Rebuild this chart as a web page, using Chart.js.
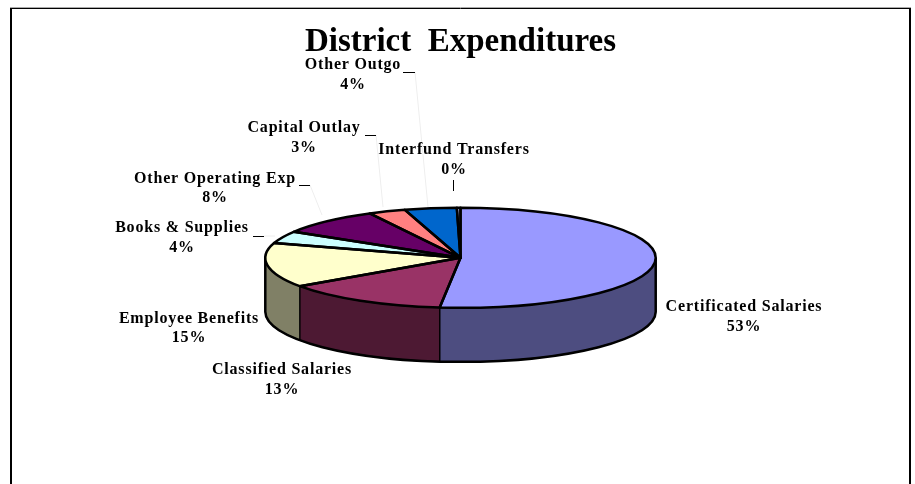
<!DOCTYPE html>
<html>
<head>
<meta charset="utf-8">
<title>District Expenditures</title>
<script src="https://cdn.jsdelivr.net/npm/chart.js@4"></script>
<style>
  html, body { margin: 0; padding: 0; background: #fff; overflow: hidden; }
  canvas { display: block; }
</style>
</head>
<body>
<canvas id="myChart" width="915" height="484"></canvas>
<script>
// Values (slice sizes as drawn, then the printed percentages)
const categories = ["Certificated Salaries", "Classified Salaries", "Employee Benefits", "Books & Supplies",
  "Other Operating Exp", "Capital Outlay", "Other Outgo", "Interfund Transfers"];
const sliceValues = [51.7, 13.7, 14.4, 3.9, 8.6, 3.1, 4.3, 0.3];
const printedPercents = ["53%", "13%", "15%", "4%", "8%", "3%", "4%", "0%"];

const topColors = ["#9999FF", "#993366", "#FFFFCC", "#CCFFFF", "#660066", "#FF8080", "#0066CC", "#CCCCFF"];
const sideColors = ["#4D4D80", "#4D1933", "#808066", "#668080", "#330033", "#804040", "#003366", "#666680"];

// label centre x, baseline of name, baseline of percent
const labelSpots = [[744, 311, 331], [282, 374, 394], [189, 323, 342], [182, 232, 252],
  [215, 183, 202], [304, 132, 152], [353, 69, 89], [454, 154, 174]];
// faint leaders from the labels down to the pie
const leaders = [[253, 236, 264, 236, 275, 236], [299, 185, 310, 185, 322, 215],
  [365, 135, 376, 135, 383, 207], [403, 72, 415, 72, 428, 207]];

const squash = 50 / 195;  // ellipse height / width
const depth = 54;

const pie3d = {
  id: "pie3d",
  beforeDatasetsDraw(chart) {
    const ctx = chart.ctx;
    const arcs = chart.getDatasetMeta(0).data;
    const { x, y, outerRadius: r } = arcs[0];
    const ry = r * squash;

    // outer walls, only the part of each slice facing the viewer
    ctx.save();
    ctx.lineJoin = "round";
    arcs.forEach((arc, i) => {
      const a0 = Math.max(arc.startAngle, 0);
      const a1 = Math.min(arc.endAngle, Math.PI);
      if (a1 <= a0) return;
      ctx.beginPath();
      ctx.ellipse(x, y, r, ry, 0, a0, a1);
      ctx.ellipse(x, y + depth, r, ry, 0, a1, a0, true);
      ctx.closePath();
      ctx.fillStyle = sideColors[i];
      ctx.fill();
      ctx.lineWidth = 1.2;
      ctx.strokeStyle = "#000";
      ctx.stroke();
    });
    // heavier outside edge
    ctx.beginPath();
    ctx.moveTo(x + r, y);
    ctx.ellipse(x, y + depth, r, ry, 0, 0, Math.PI);
    ctx.lineTo(x - r, y);
    ctx.lineWidth = 2.5;
    ctx.stroke();
    ctx.restore();

    // flatten the library's own pie for the top face
    ctx.save();
    ctx.translate(x, y);
    ctx.scale(1, squash);
    ctx.translate(-x, -y);
  },
  afterDatasetsDraw(chart) {
    const ctx = chart.ctx;
    ctx.restore();

    const arcs = chart.getDatasetMeta(0).data;
    const { x, y, outerRadius: r } = arcs[0];
    const ry = r * squash;

    ctx.save();
    ctx.lineJoin = "round";
    ctx.strokeStyle = "#000";
    ctx.lineWidth = 2.5;
    arcs.forEach(arc => {
      ctx.beginPath();
      ctx.moveTo(x, y);
      ctx.ellipse(x, y, r, ry, 0, arc.startAngle, arc.endAngle);
      ctx.closePath();
      ctx.stroke();
    });

    // leaders
    ctx.lineWidth = 1;
    leaders.forEach(l => {
      ctx.strokeStyle = "#eeeeee";
      ctx.beginPath();
      ctx.moveTo(l[2], l[3]);
      ctx.lineTo(l[4], l[5]);
      ctx.stroke();
      ctx.strokeStyle = "#000";
      ctx.beginPath();
      ctx.moveTo(l[0], l[1] + 0.5);
      ctx.lineTo(l[2], l[3] + 0.5);
      ctx.stroke();
    });
    ctx.strokeStyle = "#000";
    ctx.beginPath();
    ctx.moveTo(453.5, 180);
    ctx.lineTo(453.5, 191);
    ctx.stroke();

    // slice labels
    ctx.fillStyle = "#000";
    ctx.font = "bold 16px 'Liberation Serif'";
    ctx.letterSpacing = "0.8px";
    ctx.textAlign = "center";
    categories.forEach((name, i) => {
      const s = labelSpots[i];
      ctx.fillText(name, s[0], s[1]);
      ctx.fillText(printedPercents[i], s[0], s[2]);
    });
    ctx.restore();

    // frame, open at the bottom
    ctx.save();
    ctx.strokeStyle = "#000";
    ctx.lineWidth = 2;
    ctx.beginPath();
    ctx.moveTo(11, 484);
    ctx.lineTo(11, 8);
    ctx.moveTo(910, 8);
    ctx.lineTo(910, 484);
    ctx.stroke();
    ctx.lineWidth = 1;
    ctx.beginPath();
    ctx.moveTo(10, 8.5);
    ctx.lineTo(911, 8.5);
    ctx.stroke();
    ctx.strokeStyle = "#aaaaaa";
    ctx.beginPath();
    ctx.moveTo(10, 7.5);
    ctx.lineTo(911, 7.5);
    ctx.stroke();
    ctx.restore();
  }
};

new Chart(document.getElementById("myChart"), {
  type: "pie",
  data: {
    labels: categories,
    datasets: [{
      data: sliceValues,
      backgroundColor: topColors,
      borderWidth: 0
    }]
  },
  options: {
    responsive: false,
    animation: false,
    layout: { padding: { left: 6, right: 0, top: 0, bottom: 31 } },
    plugins: {
      legend: { display: false },
      tooltip: { enabled: false },
      title: {
        display: true,
        text: "District  Expenditures",
        color: "#000",
        font: { family: "'Liberation Serif'", size: 33, weight: "bold" },
        padding: { top: 23, bottom: 0 }
      }
    }
  },
  plugins: [pie3d]
});
</script>
</body>
</html>
